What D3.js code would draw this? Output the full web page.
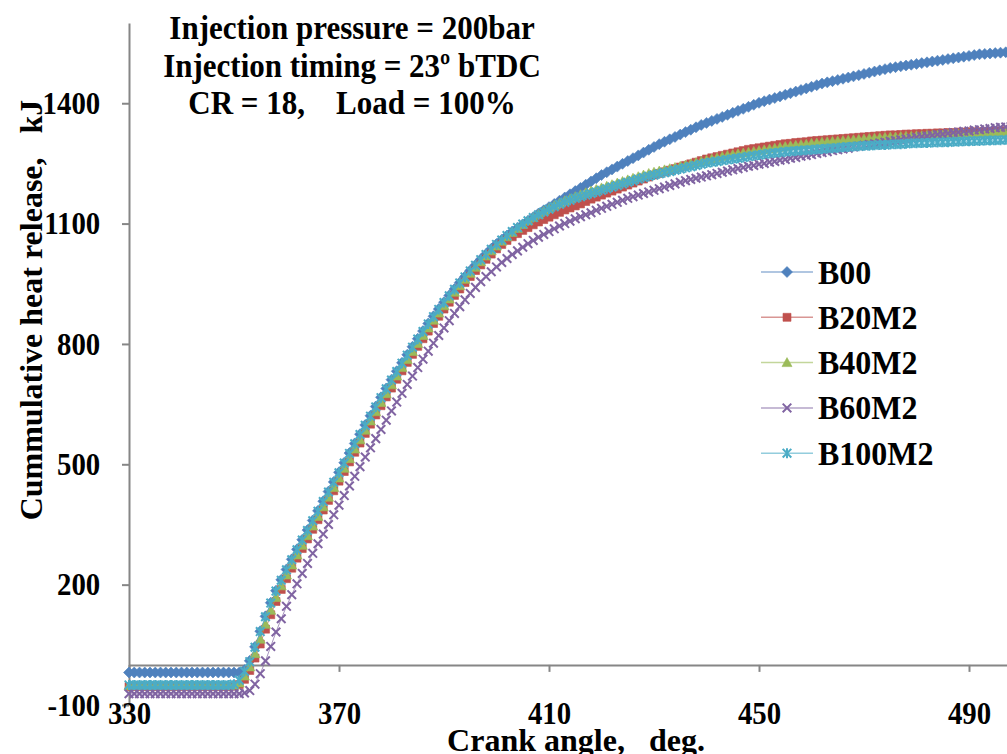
<!DOCTYPE html>
<html>
<head>
<meta charset="utf-8">
<title>Cumulative heat release</title>
<style>
  body { margin: 0; background: #fff; }
  svg { display: block; }
  text {
    font-family: "Liberation Serif", "Times New Roman", serif;
    font-weight: bold;
    fill: #000;
    white-space: pre;
  }
  .axis path, .axis line { stroke: #868686; stroke-width: 2px; }
  .axis text { font-size: 32px; }
</style>
</head>
<body>
<svg id="chart" width="1007" height="754"></svg>
<script src="https://d3js.org/d3.v7.min.js"></script>
<script>
// crank angle, deg (one reading per degree)
const crankAngle = d3.range(330, 499);

// cumulative heat release, kJ
const b00 = [
  -19, -19, -19, -19, -19, -19, -19, -19, -19, -19,
  -19, -19, -19, -19, -19, -19, -19, -19, -19, -19,
  -19, -19, -13, 10, 45, 84, 121, 155, 185, 212,
  238, 263, 288, 312, 336, 360, 384, 408, 432, 456,
  480, 504, 528, 552, 575, 598, 621, 644, 667, 689,
  711, 732, 753, 773, 793, 813, 832, 851, 869, 887,
  904, 921, 937, 953, 968, 983, 997, 1011, 1024, 1037,
  1049, 1060, 1070, 1080, 1089, 1098, 1107, 1116, 1125, 1133,
  1141, 1149, 1157, 1165, 1173, 1181, 1189, 1197, 1205, 1213,
  1221, 1228, 1235, 1242, 1249, 1256, 1263, 1270, 1277, 1284,
  1291, 1298, 1304, 1310, 1316, 1322, 1328, 1334, 1340, 1346,
  1351, 1356, 1361, 1366, 1371, 1376, 1381, 1386, 1391, 1396,
  1401, 1405, 1409, 1413, 1417, 1421, 1425, 1429, 1433, 1437,
  1441, 1445, 1449, 1452, 1455, 1458, 1461, 1464, 1467, 1470,
  1473, 1476, 1479, 1482, 1485, 1488, 1490, 1492, 1494, 1496,
  1498, 1500, 1502, 1504, 1506, 1508, 1510, 1512, 1514, 1516,
  1518, 1520, 1522, 1523, 1524, 1525, 1526, 1527, 1528
];
const b20m2 = [
  -54, -54, -54, -54, -54, -54, -54, -54, -54, -54,
  -54, -54, -54, -54, -54, -54, -54, -54, -54, -54,
  -53, -49, -36, -14, 17, 52, 89, 125, 158, 188,
  215, 241, 266, 290, 314, 338, 362, 386, 410, 434,
  458, 482, 506, 530, 553, 577, 600, 623, 646, 668,
  690, 712, 733, 754, 774, 794, 813, 832, 851, 869,
  887, 904, 921, 937, 953, 968, 983, 997, 1011, 1024,
  1037, 1048, 1058, 1067, 1075, 1083, 1090, 1097, 1104, 1110,
  1116, 1122, 1128, 1134, 1139, 1144, 1149, 1155, 1161, 1166,
  1171, 1176, 1181, 1186, 1191, 1196, 1201, 1206, 1211, 1216,
  1221, 1225, 1229, 1233, 1237, 1241, 1245, 1249, 1253, 1257,
  1261, 1264, 1267, 1270, 1273, 1276, 1279, 1282, 1285, 1287,
  1289, 1291, 1293, 1295, 1297, 1299, 1300, 1302, 1303, 1304,
  1306, 1307, 1308, 1309, 1310, 1311, 1312, 1313, 1314, 1315,
  1316, 1317, 1318, 1319, 1320, 1321, 1321, 1322, 1323, 1323,
  1324, 1324, 1325, 1325, 1326, 1326, 1327, 1327, 1328, 1328,
  1329, 1329, 1329, 1330, 1330, 1330, 1331, 1331, 1331
];
const b40m2 = [
  -52, -52, -52, -52, -52, -52, -52, -52, -52, -52,
  -52, -52, -52, -52, -52, -52, -52, -52, -52, -52,
  -51, -45, -28, -5, 28, 64, 101, 136, 168, 197,
  224, 249, 274, 298, 322, 346, 370, 394, 418, 442,
  466, 490, 514, 538, 561, 585, 608, 631, 654, 676,
  698, 720, 741, 761, 781, 801, 821, 840, 859, 877,
  895, 912, 929, 945, 961, 976, 991, 1005, 1019, 1032,
  1044, 1056, 1067, 1078, 1088, 1098, 1107, 1115, 1123, 1131,
  1138, 1145, 1151, 1157, 1162, 1167, 1172, 1177, 1181, 1185,
  1189, 1193, 1197, 1201, 1205, 1209, 1213, 1217, 1221, 1225,
  1228, 1231, 1234, 1237, 1240, 1243, 1246, 1249, 1252, 1255,
  1258, 1261, 1264, 1267, 1270, 1272, 1274, 1276, 1278, 1280,
  1282, 1284, 1286, 1288, 1290, 1292, 1294, 1295, 1297, 1298,
  1300, 1301, 1303, 1304, 1305, 1306, 1307, 1308, 1309, 1310,
  1311, 1312, 1313, 1314, 1315, 1316, 1316, 1317, 1318, 1318,
  1319, 1319, 1320, 1320, 1321, 1321, 1322, 1322, 1323, 1323,
  1324, 1324, 1325, 1325, 1326, 1326, 1326, 1327, 1327
];
const b60m2 = [
  -72, -72, -72, -72, -72, -72, -72, -72, -72, -72,
  -72, -72, -72, -72, -72, -72, -72, -72, -72, -72,
  -72, -72, -70, -64, -48, -22, 10, 46, 82, 115,
  146, 175, 202, 228, 253, 278, 302, 326, 350, 374,
  398, 422, 446, 470, 494, 518, 541, 564, 587, 610,
  633, 655, 677, 699, 720, 741, 762, 782, 802, 821,
  840, 858, 876, 893, 910, 926, 941, 955, 968, 980,
  992, 1003, 1013, 1023, 1032, 1041, 1050, 1058, 1066, 1073,
  1080, 1087, 1094, 1100, 1106, 1112, 1117, 1122, 1127, 1133,
  1138, 1143, 1148, 1153, 1158, 1163, 1167, 1171, 1175, 1179,
  1183, 1187, 1191, 1195, 1199, 1203, 1207, 1210, 1213, 1216,
  1219, 1222, 1225, 1228, 1231, 1234, 1237, 1240, 1243, 1245,
  1248, 1250, 1253, 1255, 1258, 1260, 1263, 1265, 1268, 1270,
  1272, 1275, 1277, 1279, 1282, 1284, 1286, 1288, 1291, 1293,
  1295, 1297, 1299, 1301, 1303, 1305, 1307, 1309, 1311, 1313,
  1315, 1317, 1318, 1320, 1322, 1323, 1325, 1327, 1328, 1330,
  1331, 1333, 1334, 1336, 1337, 1339, 1340, 1341, 1342
];
const b100m2 = [
  -50, -50, -50, -50, -50, -50, -50, -50, -50, -50,
  -50, -50, -50, -50, -50, -50, -50, -50, -50, -50,
  -48, -38, -16, 8, 44, 83, 120, 154, 184, 211,
  237, 262, 287, 311, 335, 359, 383, 407, 431, 455,
  479, 503, 527, 551, 574, 597, 620, 643, 666, 688,
  710, 731, 752, 772, 792, 812, 831, 850, 868, 886,
  903, 920, 936, 952, 967, 982, 996, 1010, 1023, 1036,
  1048, 1059, 1070, 1080, 1090, 1099, 1107, 1115, 1122, 1129,
  1136, 1142, 1148, 1153, 1158, 1163, 1167, 1171, 1175, 1179,
  1183, 1187, 1191, 1195, 1199, 1203, 1207, 1211, 1215, 1218,
  1221, 1224, 1227, 1230, 1233, 1236, 1239, 1242, 1245, 1248,
  1251, 1253, 1255, 1257, 1259, 1261, 1263, 1265, 1267, 1269,
  1271, 1273, 1275, 1276, 1277, 1279, 1280, 1281, 1282, 1283,
  1284, 1285, 1286, 1287, 1288, 1289, 1290, 1291, 1292, 1293,
  1294, 1294, 1295, 1296, 1296, 1297, 1298, 1298, 1299, 1300,
  1300, 1301, 1301, 1302, 1302, 1303, 1303, 1304, 1304, 1305,
  1305, 1306, 1306, 1307, 1307, 1308, 1308, 1309, 1309
];

const seriesNames = ["B00", "B20M2", "B40M2", "B60M2", "B100M2"];
const seriesValues = [b00, b20m2, b40m2, b60m2, b100m2];
const seriesColors = ["#4F81BD", "#C0504D", "#9BBB59", "#8064A2", "#4BACC6"];
const seriesMarkers = ["diamond", "square", "triangle", "x", "star"];

const xTicks = [330, 370, 410, 450, 490];
const yTicks = [-100, 200, 500, 800, 1100, 1400];
const titleLines = [
  "Injection pressure = 200bar",
  "Injection timing = 23\u00ba bTDC",
  "CR = 18,    Load = 100%"
];

const svg = d3.select("#chart");

const xScale = d3.scaleLinear().domain([330, 500]).range([129, 1021.5]);
const yScale = d3.scaleLinear().domain([-100, 1600]).range([705, 23]);

// marker shapes, centred on 0,0
const markerPaths = {
  diamond: "M0,-5.5L5.5,0L0,5.5L-5.5,0Z",
  square: "M-4,-4H4V4H-4Z",
  triangle: "M0,-5L5,4H-5Z",
  x: "M-4.3,-4.3L4.3,4.3M-4.3,4.3L4.3,-4.3",
  star: "M-4.3,-4.3L4.3,4.3M-4.3,4.3L4.3,-4.3M0,-5V5"
};
const strokedMarkers = ["x", "star"];

function drawMarker(sel, type, color) {
  const stroked = strokedMarkers.includes(type);
  sel.append("path")
    .attr("d", markerPaths[type])
    .attr("fill", stroked ? "none" : color)
    .attr("stroke", color)
    .attr("stroke-width", stroked ? 2 : 0.6);
}

// text squeezed a little sideways, like the original export
function addText(parent, x, y, str, size, sx, anchor) {
  return parent.append("g")
    .attr("transform", "translate(" + x + "," + y + ") scale(" + sx + ",1)")
    .append("text")
    .attr("text-anchor", anchor || "start")
    .style("font-size", size + "px")
    .text(str);
}

// axes
const yAxis = d3.axisLeft(yScale)
  .tickValues(yTicks)
  .tickSize(7)
  .tickSizeOuter(0)
  .tickPadding(25)
  .tickFormat(d => String(d));
svg.append("g")
  .attr("class", "axis y-axis")
  .attr("transform", "translate(" + xScale(330) + ",0)")
  .call(yAxis);

const xAxis = d3.axisBottom(xScale)
  .tickValues(xTicks)
  .tickSize(7)
  .tickSizeOuter(0)
  .tickPadding(29)
  .tickFormat(d => String(d));
svg.append("g")
  .attr("class", "axis x-axis")
  .attr("transform", "translate(0," + yScale(0) + ")")
  .call(xAxis);

svg.selectAll(".axis text")
  .attr("fill", "#000")
  .attr("transform", "scale(0.9,1)");

// series: thin line plus a marker at every reading
const line = d3.line()
  .x((d, i) => xScale(crankAngle[i]))
  .y(d => yScale(d));

seriesValues.forEach((values, s) => {
  const g = svg.append("g").attr("class", "series series-" + s);
  g.append("path")
    .attr("d", line(values))
    .attr("fill", "none")
    .attr("stroke", seriesColors[s])
    .attr("stroke-opacity", 0.7)
    .attr("stroke-width", 1);
  g.selectAll(".pt")
    .data(values)
    .enter()
    .append("g")
    .attr("class", "pt")
    .attr("transform", (d, i) => "translate(" + xScale(crankAngle[i]) + "," + yScale(d) + ")")
    .each(function () {
      drawMarker(d3.select(this), seriesMarkers[s], seriesColors[s]);
    });
});

// legend
const legend = svg.append("g").attr("transform", "translate(761,272)");
seriesNames.forEach((name, s) => {
  const row = legend.append("g").attr("transform", "translate(0," + (s * 45.3) + ")");
  row.append("line")
    .attr("x1", 0).attr("x2", 52)
    .attr("stroke", seriesColors[s])
    .attr("stroke-opacity", 0.6)
    .attr("stroke-width", 1.5);
  drawMarker(row.append("g").attr("transform", "translate(26,0)"), seriesMarkers[s], seriesColors[s]);
  addText(row, 57, 11.5, name, 33, 0.97);
});

// annotation
titleLines.forEach((t, i) => addText(svg, 352, 39 + i * 37.5, t, 33, 0.94, "middle"));

// axis titles
svg.append("g")
  .attr("transform", "translate(42,310) rotate(-90)")
  .append("text")
  .attr("text-anchor", "middle")
  .style("font-size", "32px")
  .text("Cummulative heat release,   kJ");

addText(svg, 576, 751, "Crank angle,   deg.", 32, 1, "middle");
</script>
</body>
</html>
